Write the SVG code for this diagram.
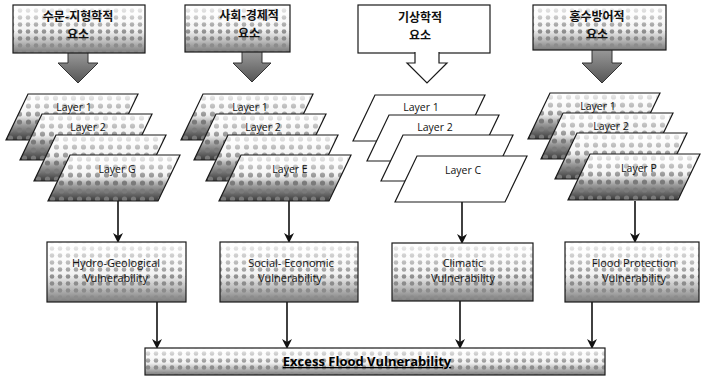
<svg xmlns="http://www.w3.org/2000/svg" xmlns:xlink="http://www.w3.org/1999/xlink" width="701" height="381" viewBox="0 0 701 381">
<style>
.kr{font-family:"Noto Sans CJK KR","Noto Sans CJK SC",sans-serif;font-weight:bold;font-size:12px;fill:#111;text-anchor:middle}
.lt{font-family:"Open Sans","DejaVu Sans",sans-serif;font-size:10.5px;fill:#111;text-anchor:middle}
.vt{font-family:"Open Sans","DejaVu Sans",sans-serif;font-size:11px;fill:#111;text-anchor:middle}
.bt{font-family:"Open Sans","DejaVu Sans",sans-serif;font-size:13px;font-weight:bold;fill:#000;text-anchor:middle;text-decoration:underline}
.lb{fill:url(#gL)}
.bb{fill:url(#gB)}
.dot{fill:url(#dots)}
.ldot{fill:url(#dotsL)}
.fade{fill:url(#fade);stroke:#1a1a1a;stroke-width:1.2}
.plain{fill:#fff;stroke:#1a1a1a;stroke-width:1.2}
.con{stroke:#111;stroke-width:1.6;fill:none;marker-end:url(#ah)}
.blk{fill:url(#gA);stroke:#333;stroke-width:1}
</style>
<defs>
<linearGradient id="gL" x1="0" y1="0" x2="0" y2="1">
<stop offset="0" stop-color="#ffffff"/>
<stop offset="0.45" stop-color="#eeeeee"/>
<stop offset="0.68" stop-color="#9a9a9a"/>
<stop offset="1" stop-color="#3a3a3a"/>
</linearGradient>
<linearGradient id="gB" x1="0" y1="0" x2="0" y2="1">
<stop offset="0" stop-color="#ffffff"/>
<stop offset="0.55" stop-color="#f0f0f0"/>
<stop offset="0.78" stop-color="#b8b8b8"/>
<stop offset="1" stop-color="#7a7a7a"/>
</linearGradient>
<linearGradient id="gA" x1="0" y1="0" x2="0" y2="1">
<stop offset="0" stop-color="#9a9a9a"/>
<stop offset="1" stop-color="#555555"/>
</linearGradient>
<linearGradient id="fade" x1="0" y1="0" x2="0" y2="1">
<stop offset="0" stop-color="#fff" stop-opacity="0.9"/>
<stop offset="0.35" stop-color="#fff" stop-opacity="0.4"/>
<stop offset="0.6" stop-color="#fff" stop-opacity="0"/>
</linearGradient>
<pattern id="dots" width="8" height="7" patternUnits="userSpaceOnUse">
<circle cx="4" cy="3.5" r="2.3" fill="#8c8c8c"/>
</pattern>
<pattern id="dotsL" width="9" height="8" patternUnits="userSpaceOnUse">
<circle cx="4.5" cy="4" r="2.6" fill="#7a7a7a"/>
</pattern>
<path id="para" d="M22,0 H132 L110,46 H0 Z"/>
<marker id="ah" markerWidth="10" markerHeight="10" refX="8" refY="5" orient="auto" markerUnits="userSpaceOnUse">
<path d="M0,0 L10,5 L0,10 L3,5 Z" fill="#111"/>
</marker>
</defs>

<g id="connectors">
<path class="blk" d="M68,52 V63 H58 L78,83 L98,63 H88 V52 Z"/>
<path class="blk" d="M242,51 V63 H233 L252,82 L271,63 H262 V51 Z"/>
<path class="blk" d="M592,49 V63 H582 L602,83 L622,63 H612 V49 Z"/>
<line class="con" x1="118" y1="201" x2="118" y2="241"/>
<line class="con" x1="289" y1="201" x2="289" y2="241"/>
<line class="con" x1="462" y1="201" x2="462" y2="242"/>
<line class="con" x1="635" y1="201" x2="635" y2="241"/>
<line class="con" x1="157" y1="302" x2="157" y2="347"/>
<line class="con" x1="287" y1="302" x2="287" y2="347"/>
<line class="con" x1="460" y1="301" x2="460" y2="347"/>
<line class="con" x1="592" y1="302" x2="592" y2="347"/>
</g>

<g id="header-hydro">
<rect class="bb" x="13" y="5" width="132" height="48"/>
<rect class="dot" x="13" y="5" width="132" height="48"/>
<rect class="fade" x="13" y="5" width="132" height="48"/>
<text class="kr" x="78" y="21">수문-지형학적</text>
<text class="kr" x="78" y="39">요소</text>
</g>
<g id="header-social">
<rect class="bb" x="185" y="5" width="105" height="47"/>
<rect class="dot" x="185" y="5" width="105" height="47"/>
<rect class="fade" x="185" y="5" width="105" height="47"/>
<text class="kr" x="249" y="20">사회-경제적</text>
<text class="kr" x="249" y="38">요소</text>
</g>
<g id="header-climatic">
<rect class="plain" x="358" y="5" width="132" height="48"/>
<path d="M415,52 V63 H407 L427,83 L447,63 H439 V52" fill="#fff" stroke="#1a1a1a" stroke-width="1.2"/>
<text class="kr" x="420" y="22">기상학적</text>
<text class="kr" x="420" y="40">요소</text>
</g>
<g id="header-protection">
<rect class="bb" x="533" y="5" width="133" height="45"/>
<rect class="dot" x="533" y="5" width="133" height="45"/>
<rect class="fade" x="533" y="5" width="133" height="45"/>
<text class="kr" x="597" y="21">홍수방어적</text>
<text class="kr" x="597" y="39">요소</text>
</g>

<g id="layers-hydro">
<g transform="translate(6,94)"><use href="#para" class="lb"/><use href="#para" class="ldot"/><use href="#para" class="fade"/><text class="lt" x="68" y="17">Layer 1</text></g>
<g transform="translate(20,114)"><use href="#para" class="lb"/><use href="#para" class="ldot"/><use href="#para" class="fade"/><text class="lt" x="68" y="17">Layer 2</text></g>
<g transform="translate(34,135)"><use href="#para" class="lb"/><use href="#para" class="ldot"/><use href="#para" class="fade"/></g>
<g transform="translate(48,155)"><use href="#para" class="lb"/><use href="#para" class="ldot"/><use href="#para" class="fade"/><text class="lt" x="69" y="18">Layer G</text></g>
</g>
<g id="layers-social">
<g transform="translate(181,94)"><use href="#para" class="lb"/><use href="#para" class="ldot"/><use href="#para" class="fade"/><text class="lt" x="69" y="17">Layer 1</text></g>
<g transform="translate(194,114)"><use href="#para" class="lb"/><use href="#para" class="ldot"/><use href="#para" class="fade"/><text class="lt" x="69" y="17">Layer 2</text></g>
<g transform="translate(206,135)"><use href="#para" class="lb"/><use href="#para" class="ldot"/><use href="#para" class="fade"/></g>
<g transform="translate(219,155)"><use href="#para" class="lb"/><use href="#para" class="ldot"/><use href="#para" class="fade"/><text class="lt" x="71" y="18">Layer E</text></g>
</g>
<g id="layers-climatic">
<g transform="translate(353,95)"><use href="#para" class="plain"/><text class="lt" x="68" y="16">Layer 1</text></g>
<g transform="translate(367,115)"><use href="#para" class="plain"/><text class="lt" x="68" y="16">Layer 2</text></g>
<g transform="translate(381,135)"><use href="#para" class="plain"/></g>
<g transform="translate(395,156)"><use href="#para" class="plain"/><text class="lt" x="68" y="18">Layer C</text></g>
</g>
<g id="layers-protection">
<g transform="translate(528,93)"><use href="#para" class="lb"/><use href="#para" class="ldot"/><use href="#para" class="fade"/><text class="lt" x="70" y="17">Layer 1</text></g>
<g transform="translate(541,113)"><use href="#para" class="lb"/><use href="#para" class="ldot"/><use href="#para" class="fade"/><text class="lt" x="70" y="17">Layer 2</text></g>
<g transform="translate(555,133)"><use href="#para" class="lb"/><use href="#para" class="ldot"/><use href="#para" class="fade"/></g>
<g transform="translate(568,154)"><use href="#para" class="lb"/><use href="#para" class="ldot"/><use href="#para" class="fade"/><text class="lt" x="71" y="18">Layer P</text></g>
</g>

<g id="vuln-hydro">
<rect class="bb" x="47" y="242" width="139" height="60"/>
<rect class="dot" x="47" y="242" width="139" height="60"/>
<rect class="fade" x="47" y="242" width="139" height="60"/>
<text class="vt" x="116" y="267">Hydro-Geological</text>
<text class="vt" x="116" y="282">Vulnerability</text>
</g>
<g id="vuln-social">
<rect class="bb" x="220" y="242" width="138" height="60"/>
<rect class="dot" x="220" y="242" width="138" height="60"/>
<rect class="fade" x="220" y="242" width="138" height="60"/>
<text class="vt" x="291" y="267">Social- Economic</text>
<text class="vt" x="290" y="282">Vulnerability</text>
</g>
<g id="vuln-climatic">
<rect class="bb" x="392" y="243" width="141" height="58"/>
<rect class="dot" x="392" y="243" width="141" height="58"/>
<rect class="fade" x="392" y="243" width="141" height="58"/>
<text class="vt" x="463" y="267">Climatic</text>
<text class="vt" x="463" y="282">Vulnerability</text>
</g>
<g id="vuln-protection">
<rect class="bb" x="565" y="242" width="134" height="60"/>
<rect class="dot" x="565" y="242" width="134" height="60"/>
<rect class="fade" x="565" y="242" width="134" height="60"/>
<text class="vt" x="634" y="267">Flood Protection</text>
<text class="vt" x="634" y="282">Vulnerability</text>
</g>

<g id="excess-flood">
<rect class="bb" x="145" y="348" width="460" height="27"/>
<rect class="dot" x="145" y="348" width="460" height="27"/>
<rect class="fade" x="145" y="348" width="460" height="27"/>
<text class="bt" x="367" y="366">Excess Flood Vulnerability</text>
</g>
</svg>
